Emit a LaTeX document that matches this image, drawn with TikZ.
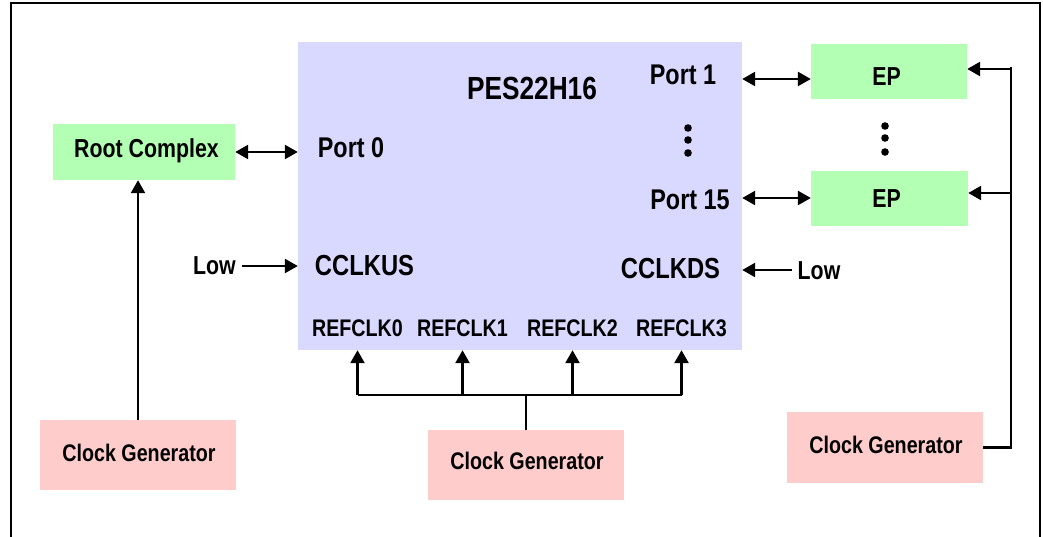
\documentclass[tikz,border=0pt]{standalone}
\usepackage{fontspec}
\setmainfont{Liberation Sans}[FakeStretch=0.82]
\usetikzlibrary{arrows.meta}
\definecolor{chip}{HTML}{D9D9FF}
\definecolor{green}{HTML}{B3FFB3}
\definecolor{pink}{HTML}{FFCCCC}
\begin{document}
\begin{tikzpicture}[x=1pt,y=-1pt,
  tip/.tip={Triangle[length=13pt,width=14pt]},
  conn/.style={line width=2.5pt,-tip},
  bi/.style={line width=2.5pt,tip-tip},
  wire/.style={line width=2.5pt},
  box/.style={inner sep=0pt,draw=none},
  lbl/.style={inner sep=0pt,anchor=base,font=\bfseries\fontsize{#1}{#1}\selectfont},
  dot/.style={fill=black}]
\useasboundingbox (0,0) rectangle (1043,537);
\fill[white] (0,0) rectangle (1043,537);
\draw[wire] (11,545) -- (11,3) -- (1040,3) -- (1040,545);

% boxes
\node[box,fill=chip,minimum width=444pt,minimum height=308pt] (pes) at (520,196) {};
\node[box,fill=green,minimum width=182pt,minimum height=56pt] (rc) at (144,152) {};
\node[box,fill=green,minimum width=156pt,minimum height=55pt] (ep1) at (889,71.5) {};
\node[box,fill=green,minimum width=157pt,minimum height=55pt] (ep2) at (889.5,198.5) {};
\node[box,fill=pink,minimum width=196pt,minimum height=70pt] (cg1) at (138,455) {};
\node[box,fill=pink,minimum width=196pt,minimum height=70pt] (cg2) at (526,465) {};
\node[box,fill=pink,minimum width=196pt,minimum height=71pt] (cg3) at (885,447.5) {};

% labels
\node[lbl=32] (title) at (532,100) {PES22H16};
\node[lbl=28.5] (p1) at (683,85) {Port 1};
\node[lbl=28.5] (p15) at (690,210) {Port 15};
\node[lbl=28.5] (p0) at (351,158) {Port 0};
\node[lbl=29] (cus) at (364.5,275) {CCLKUS};
\node[lbl=29] (cds) at (670.5,278) {CCLKDS};
\node[lbl=26] (lowl) at (214.5,274) {Low};
\node[lbl=26] (lowr) at (819,279) {Low};
\node[lbl=24] (r0) at (357.5,336) {REFCLK0};
\node[lbl=24] (r1) at (462.5,336) {REFCLK1};
\node[lbl=24] (r2) at (572.5,336) {REFCLK2};
\node[lbl=24] (r3) at (681.5,336) {REFCLK3};
\node[lbl=26] (rct) at (146.5,158) {Root Complex};
\node[lbl=26] (ep1t) at (886.5,86) {EP};
\node[lbl=26] (ep2t) at (886.5,208) {EP};
\node[lbl=24] (cg1t) at (139,461) {Clock Generator};
\node[lbl=24] (cg2t) at (527,469) {Clock Generator};
\node[lbl=24] (cg3t) at (886,453) {Clock Generator};

% dots
\foreach \y in {128,140,153} \fill[dot] (688,\y) circle (3.8);
\foreach \y in {126,138,152} \fill[dot] (885,\y) circle (3.8);

% helper coordinates
\coordinate (y1) at (0,79);
\coordinate (y15) at (0,198);
\coordinate (yus) at (0,266);
\coordinate (yds) at (0,270);
\coordinate (bus) at (526,395);
\coordinate (rbus) at (1011,0);
\coordinate (e1y) at (0,69);
\coordinate (e2y) at (0,193);
\coordinate (rtop) at (0,67);

% connectors
\draw[bi] (rc.east) -- (rc.east -| pes.west);
\draw[bi] (pes.east |- y1) -- (ep1.west |- y1);
\draw[bi] (pes.east |- y15) -- (ep2.west |- y15);
\draw[conn] ([xshift=6pt]lowl.east |- yus) -- (pes.west |- yus);
\draw[conn] ([xshift=-5pt]lowr.west |- yds) -- (pes.east |- yds);
\draw[conn] (cg1.north) -- (cg1.north |- rc.south);
\draw[wire] (cg2.north) -- (bus);
\draw[wire] (r0 |- bus) -- (r3 |- bus);
\foreach \r in {r0,r1,r2,r3} \draw[conn] (\r |- bus) -- (\r |- pes.south);
\draw[wire] (cg3.east) -- (cg3.east -| rbus) -- (rbus |- rtop);
\draw[conn] (rbus |- e1y) -- (ep1.east |- e1y);
\draw[conn] (rbus |- e2y) -- (ep2.east |- e2y);
\end{tikzpicture}
\end{document}
